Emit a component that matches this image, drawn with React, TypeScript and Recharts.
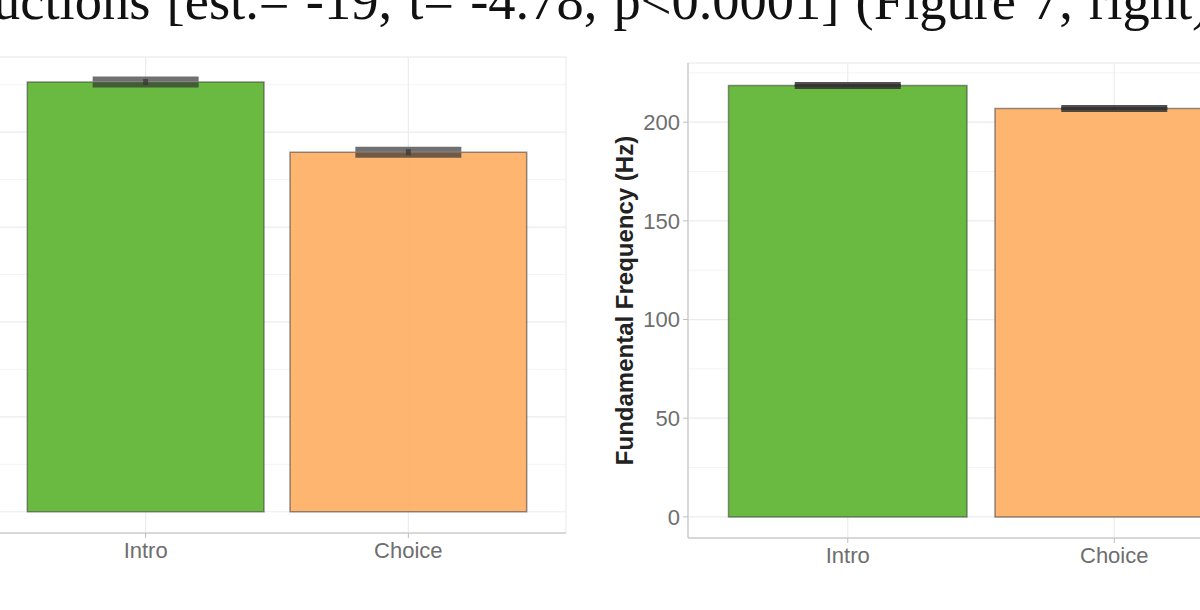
import { BarChart, Bar, XAxis, YAxis, CartesianGrid, ErrorBar, Cell } from "recharts";

// conditions on the x axis
const categories = ["Intro", "Choice"];

// left panel (y axis cut off in the source)
const leftMeans = [113.2, 94.7];
const leftErr = [0.8, 0.8];
const leftTicks = [0, 25, 50, 75, 100];
const leftMinor = [12.5, 37.5, 62.5, 87.5, 112.5];

// right panel: fundamental frequency
const rightMeans = [218.6, 207.0];
const rightErr = [0.5, 0.5];
const rightTicks = [0, 50, 100, 150, 200];
const rightMinor = [25, 75, 125, 175, 225];

const barColors = ["#62b536", "#fdb168"];

const caption = "uctions [est.= -19, t= -4.78, p<0.0001] (Figure 7, right)";

const leftData = categories.map((c, i) => ({ cond: c, value: leftMeans[i], err: leftErr[i] }));
const rightData = categories.map((c, i) => ({ cond: c, value: rightMeans[i], err: rightErr[i] }));

const tickStyle = { fill: "#6e6e6e", fontSize: 22, fontFamily: "'Liberation Sans', Arial, sans-serif" };

function Panel({ data, ticks, minor, domain, unit, errOpacity, yLabel, yWidth, chartW, chartH }: any) {
  return (
    <BarChart
      width={chartW}
      height={chartH}
      data={data}
      margin={{ top: 10, right: 4, bottom: 5, left: 0 }}
      barSize={unit * 0.9}
    >
      <CartesianGrid yAxisId="minor" vertical={false} stroke="#f4f4f4" strokeWidth={1} />
      <CartesianGrid stroke="#ececec" strokeWidth={1.2} />
      <XAxis
        dataKey="cond"
        padding={{ left: unit * 0.1, right: unit * 0.1 }}
        tick={tickStyle}
        tickSize={5}
        tickMargin={4}
        axisLine={{ stroke: "#cfcfcf", strokeWidth: 1.5 }}
        tickLine={{ stroke: "#bdbdbd" }}
        height={60}
      />
      <XAxis xAxisId="top" dataKey="cond" orientation="top" height={0} tick={false} tickLine={false}
        axisLine={{ stroke: "#d9d9d9", strokeWidth: 1.5 }} />
      <YAxis
        domain={domain}
        ticks={ticks}
        type="number"
        allowDataOverflow
        tick={tickStyle}
        tickSize={5}
        tickMargin={3}
        width={yWidth}
        axisLine={{ stroke: "#cfcfcf", strokeWidth: 1.5 }}
        tickLine={{ stroke: "#bdbdbd" }}
        label={yLabel ? {
          value: yLabel,
          angle: -90,
          position: "center",
          dx: -15,
          style: { fill: "#222", fontSize: 24, fontWeight: "bold", fontFamily: "'Liberation Sans', Arial, sans-serif" },
        } : undefined}
      />
      <YAxis yAxisId="minor" hide domain={domain} ticks={minor} type="number" allowDataOverflow />
      <YAxis yAxisId="right" orientation="right" width={0} tick={false} tickLine={false} domain={domain}
        type="number" allowDataOverflow axisLine={{ stroke: "#d9d9d9", strokeWidth: 1.5 }} />
      <Bar dataKey="value" isAnimationActive={false} fillOpacity={0.95} stroke="#3c3c3c" strokeOpacity={0.55} strokeWidth={1.5}>
        {data.map((d: any, i: number) => (
          <Cell key={d.cond} fill={barColors[i]} />
        ))}
        <ErrorBar dataKey="err" width={53} stroke="#333" strokeWidth={5} strokeOpacity={errOpacity} />
      </Bar>
    </BarChart>
  );
}

export default function App() {
  return (
    <div style={{ position: "fixed", left: 0, top: 0, width: 1200, height: 610, overflow: "hidden", background: "#fff" }}>
      <div
        style={{
          position: "absolute",
          left: -7,
          top: -29,
          whiteSpace: "nowrap",
          fontFamily: "'Liberation Serif', 'Times New Roman', serif",
          fontSize: 54.5,
          wordSpacing: 2.5,
          lineHeight: "60px",
          color: "#111",
        }}
      >
        {caption}
      </div>
      <div style={{ position: "absolute", left: -112, top: 47 }}>
        <Panel data={leftData} ticks={leftTicks} minor={leftMinor} domain={[-5.6, 119.8]} unit={263}
          errOpacity={0.7} yWidth={100} chartW={682} chartH={551} />
      </div>
      <div style={{ position: "absolute", left: 590, top: 53 }}>
        <Panel data={rightData} ticks={rightTicks} minor={rightMinor} domain={[-10.7, 230]} unit={265}
          errOpacity={0.85} yLabel="Fundamental Frequency (Hz)" yWidth={98} chartW={688} chartH={550} />
      </div>
    </div>
  );
}
